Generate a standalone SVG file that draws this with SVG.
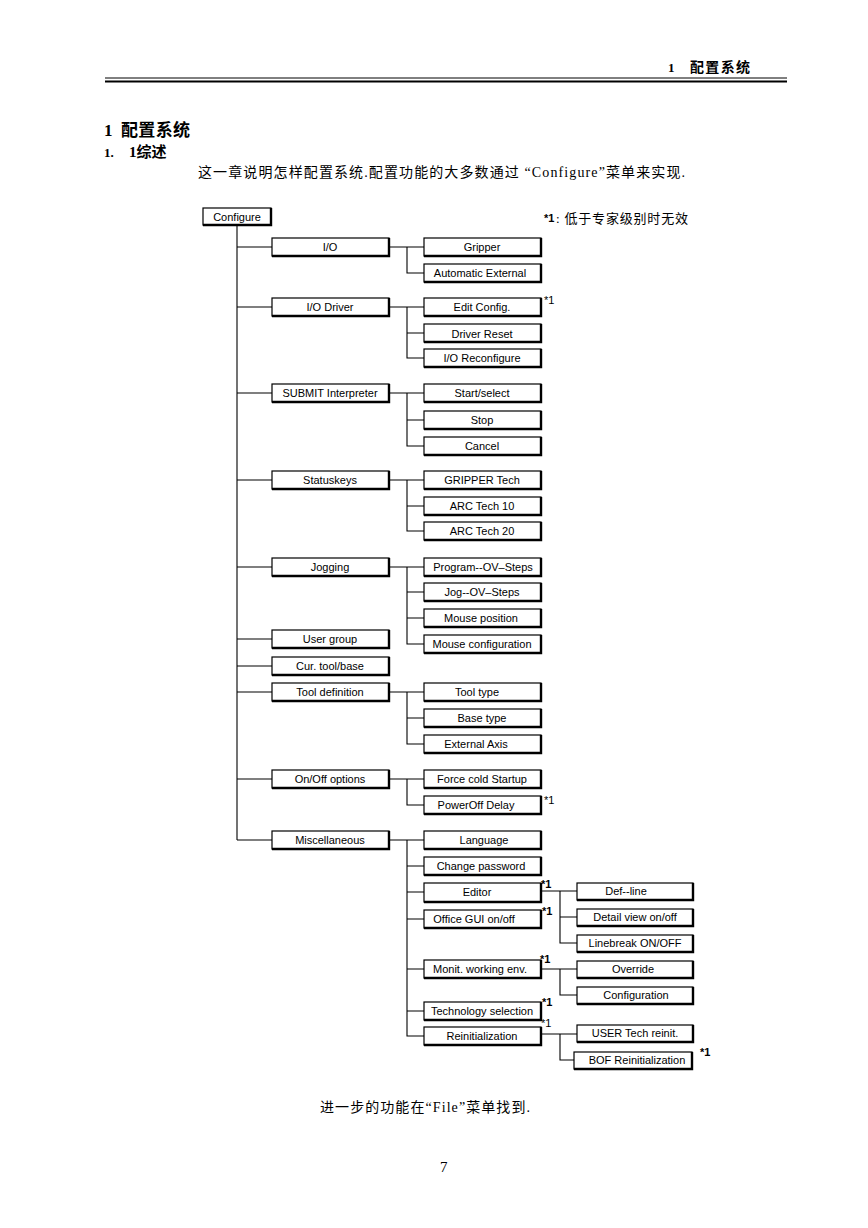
<svg xmlns="http://www.w3.org/2000/svg" width="868" height="1228" viewBox="0 0 868 1228">
<style>
.bx{fill:#fff;stroke:#000;stroke-width:1.2}
.sh{fill:none;stroke:#000;stroke-width:2.4}
.lb{font-family:"Liberation Sans",Arial,sans-serif;font-size:11px;text-anchor:middle;fill:#000}
.cn{fill:none;stroke:#000;stroke-width:1.1}
.st{font-family:"Liberation Sans",Arial,sans-serif;font-size:11px;fill:#000}
.cj{font-family:"Liberation Serif","Noto Sans CJK SC",serif;fill:#000}
</style>
<rect width="868" height="1228" fill="#fff"/>
<!-- page header -->
<g id="header">
<text class="cj" x="668" y="72" font-size="13" font-weight="bold">1</text>
<text class="cj" x="690" y="72" font-size="14" font-weight="bold" textLength="60">配置系统</text>
<line x1="105" y1="78" x2="787" y2="78" stroke="#000" stroke-width="1"/>
<line x1="105" y1="81.5" x2="787" y2="81.5" stroke="#000" stroke-width="2"/>
</g>
<g id="titles">
<text class="cj" x="104" y="136" font-size="17" font-weight="bold">1</text>
<text class="cj" x="121" y="136" font-size="17" font-weight="bold" textLength="69">配置系统</text>
<text class="cj" x="104" y="157" font-size="13" font-weight="bold">1.</text>
<text class="cj" x="129" y="157" font-size="15" font-weight="bold">1综述</text>
<text class="cj" x="198" y="177" font-size="14" textLength="487" lengthAdjust="spacing">这一章说明怎样配置系统.配置功能的大多数通过 “Configure”菜单来实现.</text>
</g>
<g id="legend">
<text class="st" x="544" y="222" font-size="12" font-weight="bold">*1</text>
<text class="cj" x="556" y="223" font-size="13" fill="#222" textLength="132" lengthAdjust="spacing">:  低于专家级别时无效</text>
</g>
<!-- connectors -->
<g id="connectors">
<path class="cn" d="M237,226 V840 M237,247 H272 M237,307 H272 M237,393 H272 M237,480 H272 M237,567 H272 M237,639 H272 M237,666 H272 M237,692 H272 M237,779 H272 M237,840 H272"/>
<path class="cn" d="M389,247 H424 M407,247 V273 H424"/>
<path class="cn" d="M389,307 H424 M407,307 V358 H424 M407,333 H424"/>
<path class="cn" d="M389,393 H424 M407,393 V446 H424 M407,420 H424"/>
<path class="cn" d="M389,480 H424 M407,480 V531 H424 M407,506 H424"/>
<path class="cn" d="M389,567 H424 M407,567 V644 H424 M407,592 H424 M407,618 H424"/>
<path class="cn" d="M389,692 H424 M407,692 V744 H424 M407,718 H424"/>
<path class="cn" d="M389,779 H424 M407,779 V805 H424"/>
<path class="cn" d="M389,840 H424 M407,840 V1036 H424 M407,866 H424 M407,892 H424 M407,919 H424 M407,969 H424 M407,1011 H424"/>
<path class="cn" d="M541,891 H577 M560,891 V943 H577 M560,917 H577"/>
<path class="cn" d="M541,969 H577 M560,969 V995 H577"/>
<path class="cn" d="M541,1034 H577 M560,1034 V1060 H574"/>
</g>
<!-- nodes -->
<g id="n-configure"><rect class="bx" x="203" y="208" width="68" height="17"/><path class="sh" d="M271,208 V225 H203"/><text class="lb" x="237" y="221">Configure</text></g>

<g id="n-io"><rect class="bx" x="272" y="238" width="117" height="18"/><path class="sh" d="M389,238 V256 H272"/><text class="lb" x="330" y="251">I/O</text></g>
<g id="n-iodriver"><rect class="bx" x="272" y="298" width="117" height="18"/><path class="sh" d="M389,298 V316 H272"/><text class="lb" x="330" y="311">I/O Driver</text></g>
<g id="n-submit"><rect class="bx" x="272" y="384" width="117" height="18"/><path class="sh" d="M389,384 V402 H272"/><text class="lb" x="330" y="397">SUBMIT Interpreter</text></g>
<g id="n-statuskeys"><rect class="bx" x="272" y="471" width="117" height="18"/><path class="sh" d="M389,471 V489 H272"/><text class="lb" x="330" y="484">Statuskeys</text></g>
<g id="n-jogging"><rect class="bx" x="272" y="558" width="117" height="18"/><path class="sh" d="M389,558 V576 H272"/><text class="lb" x="330" y="571">Jogging</text></g>
<g id="n-usergroup"><rect class="bx" x="272" y="630" width="117" height="18"/><path class="sh" d="M389,630 V648 H272"/><text class="lb" x="330" y="643">User group</text></g>
<g id="n-curtool"><rect class="bx" x="272" y="657" width="117" height="18"/><path class="sh" d="M389,657 V675 H272"/><text class="lb" x="330" y="670">Cur. tool/base</text></g>
<g id="n-tooldef"><rect class="bx" x="272" y="683" width="117" height="18"/><path class="sh" d="M389,683 V701 H272"/><text class="lb" x="330" y="696">Tool definition</text></g>
<g id="n-onoff"><rect class="bx" x="272" y="770" width="117" height="18"/><path class="sh" d="M389,770 V788 H272"/><text class="lb" x="330" y="783">On/Off options</text></g>
<g id="n-misc"><rect class="bx" x="272" y="831" width="117" height="18"/><path class="sh" d="M389,831 V849 H272"/><text class="lb" x="330" y="844">Miscellaneous</text></g>

<g id="n-gripper"><rect class="bx" x="424" y="238" width="117" height="18"/><path class="sh" d="M541,238 V256 H424"/><text class="lb" x="482" y="251">Gripper</text></g>
<g id="n-autoext"><rect class="bx" x="424" y="264" width="117" height="18"/><path class="sh" d="M541,264 V282 H424"/><text class="lb" x="480" y="277">Automatic External</text></g>
<g id="n-editconfig"><rect class="bx" x="424" y="298" width="117" height="18"/><path class="sh" d="M541,298 V316 H424"/><text class="lb" x="482" y="311">Edit Config.</text></g>
<g id="n-driverreset"><rect class="bx" x="424" y="324" width="117" height="18"/><path class="sh" d="M541,324 V342 H424"/><text class="lb" x="482" y="338">Driver Reset</text></g>
<g id="n-ioreconf"><rect class="bx" x="424" y="349" width="117" height="18"/><path class="sh" d="M541,349 V367 H424"/><text class="lb" x="482" y="362">I/O Reconfigure</text></g>
<g id="n-start"><rect class="bx" x="424" y="384" width="117" height="18"/><path class="sh" d="M541,384 V402 H424"/><text class="lb" x="482" y="397">Start/select</text></g>
<g id="n-stop"><rect class="bx" x="424" y="411" width="117" height="18"/><path class="sh" d="M541,411 V429 H424"/><text class="lb" x="482" y="424">Stop</text></g>
<g id="n-cancel"><rect class="bx" x="424" y="437" width="117" height="18"/><path class="sh" d="M541,437 V455 H424"/><text class="lb" x="482" y="450">Cancel</text></g>
<g id="n-grippertech"><rect class="bx" x="424" y="471" width="117" height="18"/><path class="sh" d="M541,471 V489 H424"/><text class="lb" x="482" y="484">GRIPPER Tech</text></g>
<g id="n-arc10"><rect class="bx" x="424" y="497" width="117" height="18"/><path class="sh" d="M541,497 V515 H424"/><text class="lb" x="482" y="510">ARC Tech 10</text></g>
<g id="n-arc20"><rect class="bx" x="424" y="522" width="117" height="18"/><path class="sh" d="M541,522 V540 H424"/><text class="lb" x="482" y="535">ARC Tech 20</text></g>
<g id="n-progov"><rect class="bx" x="424" y="558" width="117" height="18"/><path class="sh" d="M541,558 V576 H424"/><text class="lb" x="483" y="571">Program--OV–Steps</text></g>
<g id="n-jogov"><rect class="bx" x="424" y="583" width="117" height="18"/><path class="sh" d="M541,583 V601 H424"/><text class="lb" x="482" y="596">Jog--OV–Steps</text></g>
<g id="n-mousepos"><rect class="bx" x="424" y="609" width="117" height="18"/><path class="sh" d="M541,609 V627 H424"/><text class="lb" x="481" y="622">Mouse position</text></g>
<g id="n-mouseconf"><rect class="bx" x="424" y="635" width="117" height="18"/><path class="sh" d="M541,635 V653 H424"/><text class="lb" x="482" y="648">Mouse configuration</text></g>
<g id="n-tooltype"><rect class="bx" x="424" y="683" width="117" height="18"/><path class="sh" d="M541,683 V701 H424"/><text class="lb" x="477" y="696">Tool type</text></g>
<g id="n-basetype"><rect class="bx" x="424" y="709" width="117" height="18"/><path class="sh" d="M541,709 V727 H424"/><text class="lb" x="482" y="722">Base type</text></g>
<g id="n-extaxis"><rect class="bx" x="424" y="735" width="117" height="18"/><path class="sh" d="M541,735 V753 H424"/><text class="lb" x="476" y="748">External Axis</text></g>
<g id="n-forcecold"><rect class="bx" x="424" y="770" width="117" height="18"/><path class="sh" d="M541,770 V788 H424"/><text class="lb" x="482" y="783">Force cold Startup</text></g>
<g id="n-poweroff"><rect class="bx" x="424" y="796" width="117" height="18"/><path class="sh" d="M541,796 V814 H424"/><text class="lb" x="476" y="809">PowerOff Delay</text></g>
<g id="n-language"><rect class="bx" x="424" y="831" width="117" height="18"/><path class="sh" d="M541,831 V849 H424"/><text class="lb" x="484" y="844">Language</text></g>
<g id="n-chpass"><rect class="bx" x="424" y="857" width="117" height="18"/><path class="sh" d="M541,857 V875 H424"/><text class="lb" x="481" y="870">Change password</text></g>
<g id="n-editor"><rect class="bx" x="424" y="883" width="117" height="19"/><path class="sh" d="M541,883 V902 H424"/><text class="lb" x="477" y="896">Editor</text></g>
<g id="n-officegui"><rect class="bx" x="424" y="910" width="117" height="18"/><path class="sh" d="M541,910 V928 H424"/><text class="lb" x="474" y="923">Office GUI on/off</text></g>
<g id="n-monit"><rect class="bx" x="424" y="960" width="117" height="18"/><path class="sh" d="M541,960 V978 H424"/><text class="lb" x="480" y="973">Monit. working env.</text></g>
<g id="n-techsel"><rect class="bx" x="424" y="1002" width="117" height="18"/><path class="sh" d="M541,1002 V1020 H424"/><text class="lb" x="482" y="1015">Technology selection</text></g>
<g id="n-reinit"><rect class="bx" x="424" y="1027" width="117" height="18"/><path class="sh" d="M541,1027 V1045 H424"/><text class="lb" x="482" y="1040">Reinitialization</text></g>

<g id="n-defline"><rect class="bx" x="577" y="883" width="116" height="17"/><path class="sh" d="M693,883 V900 H577"/><text class="lb" x="626" y="895">Def--line</text></g>
<g id="n-detailview"><rect class="bx" x="577" y="909" width="116" height="17"/><path class="sh" d="M693,909 V926 H577"/><text class="lb" x="635" y="921">Detail view on/off</text></g>
<g id="n-linebreak"><rect class="bx" x="577" y="935" width="116" height="17"/><path class="sh" d="M693,935 V952 H577"/><text class="lb" x="635" y="947">Linebreak ON/OFF</text></g>
<g id="n-override"><rect class="bx" x="577" y="961" width="116" height="17"/><path class="sh" d="M693,961 V978 H577"/><text class="lb" x="633" y="973">Override</text></g>
<g id="n-configuration"><rect class="bx" x="577" y="987" width="116" height="17"/><path class="sh" d="M693,987 V1004 H577"/><text class="lb" x="636" y="999">Configuration</text></g>
<g id="n-usertech"><rect class="bx" x="577" y="1025" width="116" height="17"/><path class="sh" d="M693,1025 V1042 H577"/><text class="lb" x="635" y="1037">USER Tech reinit.</text></g>
<g id="n-bof"><rect class="bx" x="574" y="1052" width="118" height="17"/><path class="sh" d="M692,1052 V1069 H574"/><text class="lb" x="637" y="1064">BOF Reinitialization</text></g>

<g id="notes">
<text class="st" x="544" y="304" font-size="10">*1</text>
<text class="st" x="544" y="804" font-size="10">*1</text>
<text class="st" x="541" y="888" font-size="10" font-weight="bold">*1</text>
<text class="st" x="542" y="915" font-size="10" font-weight="bold">*1</text>
<text class="st" x="540" y="963" font-size="10" font-weight="bold">*1</text>
<text class="st" x="542" y="1006" font-size="10" font-weight="bold">*1</text>
<text class="st" x="541" y="1027" font-size="9">*1</text>
<text class="st" x="700" y="1056" font-size="10" font-weight="bold">*1</text>
</g>
<g id="footer">
<text class="cj" x="320" y="1112" font-size="14" textLength="210" lengthAdjust="spacing">进一步的功能在“File”菜单找到.</text>
<text class="cj" x="440" y="1172" font-size="15">7</text>
</g>
</svg>
